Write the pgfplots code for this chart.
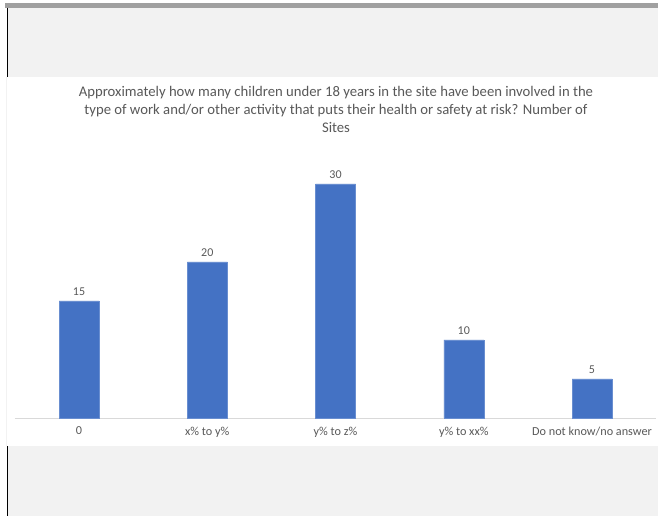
\documentclass[border=0pt]{standalone}
\usepackage{pgfplots}
\pgfplotsset{compat=1.18}
\usepackage{fontspec}
\setmainfont{Carlito}
\definecolor{barblue}{HTML}{4472C4}
\definecolor{txtgray}{HTML}{595959}
\definecolor{bggray}{HTML}{F2F2F2}
\definecolor{stripgray}{HTML}{A0A0A0}
\definecolor{basegray}{HTML}{D9D9D9}
\begin{document}
\begin{tikzpicture}[x=1bp,y=1bp]
% page frame
\fill[white] (0,0) rectangle (658,516);
\fill[stripgray] (5,508) rectangle (658,513);
\fill[bggray] (8,439) rectangle (658,508);
\fill[bggray] (8,0) rectangle (658,70);
\fill[bggray] (6,70) rectangle (7,439);
\draw[black, line width=1.2bp] (7.5,439) -- (7.5,508);
\draw[black, line width=1.2bp] (7.5,0) -- (7.5,70);
% title
\node[align=center, text=txtgray, font=\fontsize{14.7bp}{18bp}\selectfont] at (336,407)
  {Approximately how many children under 18 years in the site have been involved in the\\
   type of work and/or other activity that puts their health or safety at risk? Number of\\
   Sites};
\begin{axis}[
  at={(14.9bp,98bp)}, anchor=south west,
  scale only axis,
  width=641.25bp, height=249.6bp,
  xmin=-0.5, xmax=4.5, ymin=0, ymax=32,
  axis x line=bottom, axis y line=none,
  x axis line style={draw=basegray, -},
  xtick={0,1,2,3,4},
  xticklabels={0, x\% to y\%, y\% to z\%, y\% to xx\%, Do not know/no answer},
  major tick length=0pt,
  xticklabel style={text=txtgray, font=\fontsize{12.2bp}{14bp}\selectfont, yshift=-5.5bp},
  ytick=\empty,
  /pgf/number format/assume math mode=true,
  nodes near coords,
  nodes near coords style={text=txtgray, font=\fontsize{12bp}{14bp}\selectfont, yshift=1.5bp},
  clip=false,
]
\addplot[ybar, bar width=40bp, fill=barblue, draw=barblue!80!white] coordinates {
  (0,15) (1,20) (2,30) (3,10) (4,5)
};
\end{axis}
\useasboundingbox (0,0) rectangle (658,516);
\end{tikzpicture}
\end{document}
